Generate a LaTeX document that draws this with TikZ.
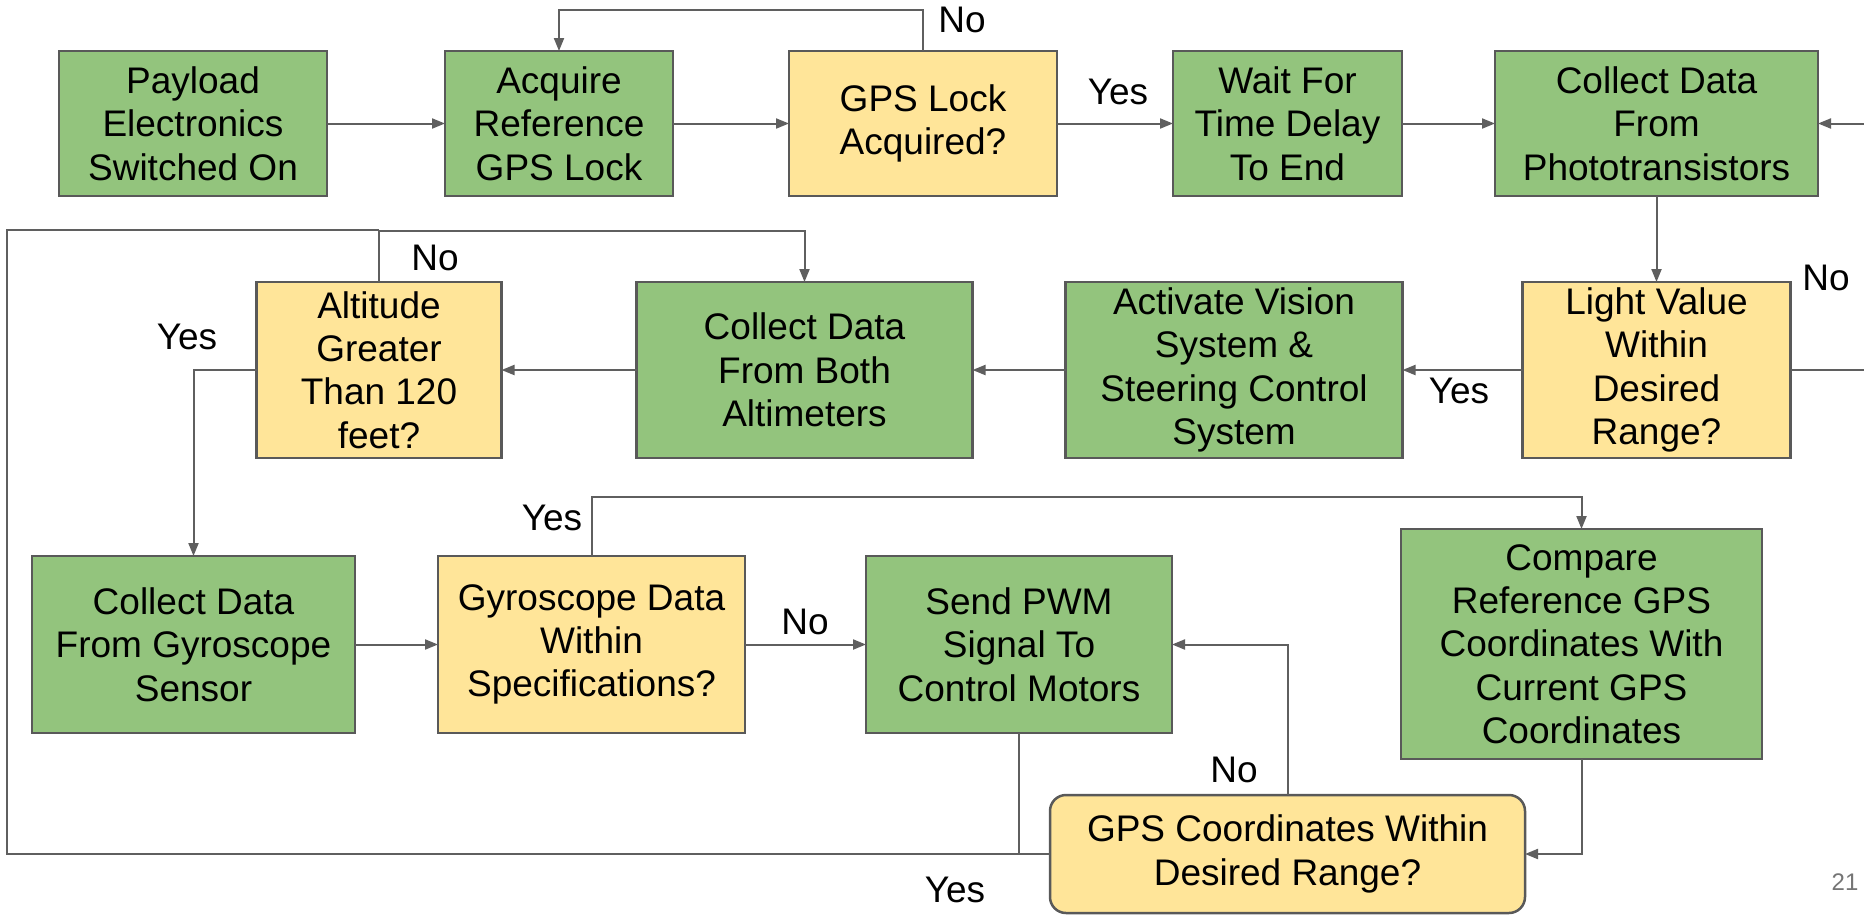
\documentclass[tikz,border=0pt]{standalone}
\usepackage{fontspec}
\setmainfont{Liberation Sans}
\usepackage{xcolor}
\usetikzlibrary{arrows.meta,positioning}
\definecolor{leaf}{HTML}{93C47D}
\definecolor{butter}{HTML}{FFE599}
\definecolor{edge}{HTML}{595959}
\definecolor{wire}{HTML}{5F5F5F}
\definecolor{pagenum}{HTML}{757575}

\begin{document}
\begin{tikzpicture}[
  x=1pt,y=-1pt,
  font=\fontsize{37}{43.3}\selectfont,
  box/.style={draw=edge,line width=2.5pt,fill=leaf,align=center,
              inner sep=0pt,outer sep=0pt,minimum height=145pt},
  query/.style={box,fill=butter},
  arrow/.style={-{Triangle[length=13pt,width=10pt]},line width=2pt,draw=wire},
  link/.style={line width=2pt,draw=wire},
  lbl/.style={inner sep=0pt}
]
\useasboundingbox (0,0) rectangle (1864,914);
\fill[white] (0,0) rectangle (1864,914);
\clip (0,0) rectangle (1864,914);
% top row
\node[box,minimum width=268pt] (pay) at (193,123.5) {Payload\\Electronics\\Switched On};
\node[box,minimum width=228pt,right=118pt of pay] (acq) {Acquire\\Reference\\GPS Lock};
\node[query,minimum width=268pt,right=116pt of acq] (lock) {GPS Lock\\Acquired?};
\node[box,minimum width=229pt,right=116pt of lock] (wait) {Wait For\\Time Delay\\To End};
\node[box,minimum width=323pt,right=93pt of wait] (photo) {Collect Data\\From\\Phototransistors};
% middle row
\node[query,minimum width=268pt,minimum height=176pt,below=86pt of photo] (light) {Light Value\\Within\\Desired\\Range?};
\node[box,minimum width=337pt,minimum height=176pt,left=120pt of light] (vision) {Activate Vision\\System \&\\Steering Control\\System};
\node[box,minimum width=336pt,minimum height=176pt,left=93pt of vision] (alti) {Collect Data\\From Both\\Altimeters};
\node[query,minimum width=245pt,minimum height=176pt,left=135pt of alti] (alt) {Altitude\\Greater\\Than 120\\feet?};
% bottom row
\node[box,minimum width=323pt,minimum height=177pt] (gyro) at (193.5,644.5) {Collect Data\\From Gyroscope\\Sensor};
\node[query,minimum width=307pt,minimum height=177pt,right=83pt of gyro] (spec) {Gyroscope Data\\Within\\Specifications?};
\node[box,minimum width=306pt,minimum height=177pt,right=121pt of spec] (pwm) {Send PWM\\Signal To\\Control Motors};
\node[box,minimum width=361pt,minimum height=230pt] (cmp) at (1581.5,644) {Compare\\Reference GPS\\Coordinates With\\Current GPS\\Coordinates};
\node[query,rounded corners=16pt,minimum width=475pt,minimum height=118pt] (within) at (1287.5,854) {GPS Coordinates Within\\Desired Range?};
\coordinate (busL) at (7,230);

\draw[arrow] (pay) -- (acq);
\draw[arrow] (acq) -- (lock);
\draw[arrow] (lock.north) -- ++(0,-41) -| (acq.north);
\draw[arrow] (lock) -- (wait);
\draw[arrow] (wait) -- (photo);
\draw[arrow] (photo) -- (light);
\draw[arrow] (light.east) -- ++(100,0) |- (photo.east);
\draw[arrow] (light) -- (vision);
\draw[arrow] (vision) -- (alti);
\draw[arrow] (alti) -- (alt);
\draw[arrow] (alt.north) -- ++(0,-51) -| (alti.north);
\draw[arrow] (alt.west) -| (gyro.north);
\draw[arrow] (gyro) -- (spec);
\draw[arrow] (spec.north) -- ++(0,-59) -| (cmp.north);
\draw[arrow] (spec) -- (pwm);
\draw[link] (pwm.south) -- (pwm.south |- within.west);
\draw[link] (within.west) -| (busL) -- (alt.north |- busL);
\draw[arrow] (within.north) |- (pwm.east);
\draw[arrow] (cmp.south) |- (within.east);

\node[lbl] (noLock) at (962,20) {No};
\node[lbl] (yesLock) at (1118,92) {Yes};
\node[lbl] (noLight) at (1826,278) {No};
\node[lbl] (yesLight) at (1459,391) {Yes};
\node[lbl] (noAlt) at (435,258) {No};
\node[lbl] (yesAlt) at (187,337) {Yes};
\node[lbl] (yesSpec) at (552,518) {Yes};
\node[lbl] (noSpec) at (805,622) {No};
\node[lbl] (noGps) at (1234,770) {No};
\node[lbl] (yesGps) at (955,890) {Yes};
\node[lbl,text=pagenum,font=\fontsize{24}{28}\selectfont] (pg) at (1845,882) {21};
\end{tikzpicture}
\end{document}
